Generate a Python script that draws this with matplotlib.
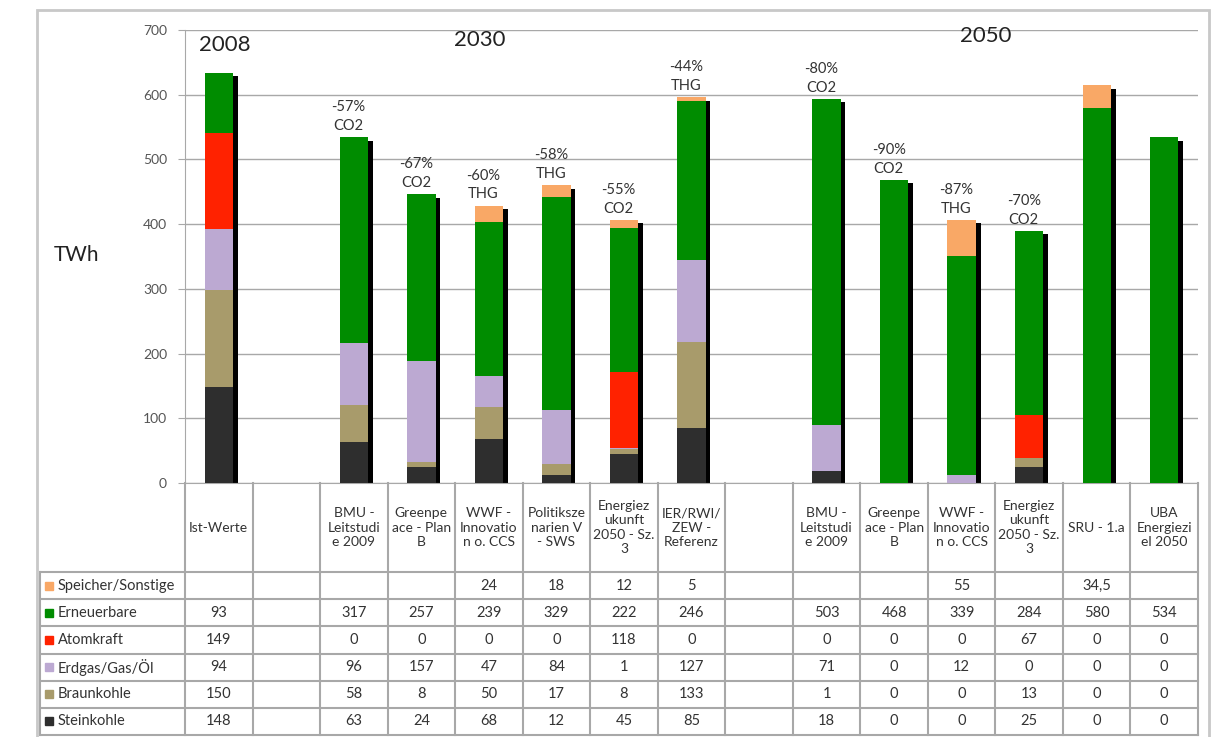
import matplotlib.pyplot as plt
import matplotlib.patches as mpatches
import numpy as np

plt.rcParams['font.family'] = ['Lato', 'DejaVu Sans']

# columns of the chart (two empty spacer columns)
columns = ['Ist-Werte', '',
           'BMU -\nLeitstudi\ne 2009', 'Greenpe\nace - Plan\nB', 'WWF -\nInnovatio\nn o. CCS',
           'Politiksze\nnarien V\n- SWS', 'Energiez\nukunft\n2050 - Sz.\n3', 'IER/RWI/\nZEW -\nReferenz',
           '',
           'BMU -\nLeitstudi\ne 2009', 'Greenpe\nace - Plan\nB', 'WWF -\nInnovatio\nn o. CCS',
           'Energiez\nukunft\n2050 - Sz.\n3', 'SRU - 1.a', 'UBA\nEnergiezi\nel 2050']

series_names = ['Speicher/Sonstige', 'Erneuerbare', 'Atomkraft', 'Erdgas/Gas/Öl', 'Braunkohle', 'Steinkohle']
series_colors = ['#F9A866', '#008C00', '#FF2200', '#BCA9D2', '#A89B6B', '#2E2E2E']

N = None
speicher = [N, N, N, N, 24, 18, 12, 5, N, N, N, 55, N, 34.5, N]
erneuerbare = [93, N, 317, 257, 239, 329, 222, 246, N, 503, 468, 339, 284, 580, 534]
atomkraft = [149, N, 0, 0, 0, 0, 118, 0, N, 0, 0, 0, 67, 0, 0]
erdgas = [94, N, 96, 157, 47, 84, 1, 127, N, 71, 0, 12, 0, 0, 0]
braunkohle = [150, N, 58, 8, 50, 17, 8, 133, N, 1, 0, 0, 13, 0, 0]
steinkohle = [148, N, 63, 24, 68, 12, 45, 85, N, 18, 0, 0, 25, 0, 0]

table_rows = [speicher, erneuerbare, atomkraft, erdgas, braunkohle, steinkohle]

notes = ['', '', '-57%\nCO2', '-67%\nCO2', '-60%\nTHG', '-58%\nTHG', '-55%\nCO2', '-44%\nTHG',
         '', '-80%\nCO2', '-90%\nCO2', '-87%\nTHG', '-70%\nCO2', '', '']

W, H = 1211, 737
fig = plt.figure(figsize=(W / 100, H / 100), dpi=100)

def fx(px):
    return px / W

def fy(py):
    return 1 - py / H

x0, x1 = 185, 1198
ytop, ybot, tbot = 30, 483, 735
ax = fig.add_axes([fx(x0), fy(ybot), fx(x1) - fx(x0), fy(ytop) - fy(ybot)])
tax = fig.add_axes([fx(x0), fy(tbot), fx(x1) - fx(x0), fy(ybot) - fy(tbot)])

# outer frame
fig.patches.append(mpatches.Rectangle((fx(37), fy(745)), fx(1209) - fx(37), fy(10) - fy(745),
                                      transform=fig.transFigure, fill=False, ec='#C8C8C8', lw=2))

n = len(columns)
x = np.arange(n)
bw = 0.42

def val(v):
    return 0 if v is None else v

stack_order = [steinkohle, braunkohle, erdgas, atomkraft, erneuerbare, speicher]
stack_colors = series_colors[::-1]
totals = np.array([sum(val(s[i]) for s in stack_order) for i in range(n)])

# shadow
mask = totals > 0
ax.bar(x[mask] + 0.07, totals[mask] - 5, width=bw, color='black', zorder=2)
bottom = np.zeros(n)
for s, c in zip(stack_order, stack_colors):
    v = np.array([val(t) for t in s], dtype=float)
    ax.bar(x, v, bottom=bottom, width=bw, color=c, zorder=3)
    bottom += v

for i, t in enumerate(notes):
    if t:
        ax.text(x[i] - 0.08, totals[i] + 7, t, ha='center', va='bottom', fontsize=10.5,
                color='#333333', linespacing=1.4, zorder=4)

ax.text(-0.3, 677, '2008', ha='left', va='center', fontsize=16, color='#222222')
ax.text(3.87, 685, '2030', ha='center', va='center', fontsize=16, color='#222222')
ax.text(11.35, 691, '2050', ha='center', va='center', fontsize=16, color='#222222')
fig.text(fx(76), fy(255), 'TWh', ha='center', va='center', fontsize=15, color='#222222')

ax.set_xlim(-0.5, n - 0.5)
ax.set_ylim(0, 700)
ax.set_yticks(range(0, 701, 100))
ax.yaxis.grid(True, color='#A8A8A8', lw=1)
ax.set_axisbelow(True)
ax.set_xticks([])
ax.tick_params(axis='y', length=5, color='#A8A8A8', labelsize=10, labelcolor='#555555', pad=8)
for side in ['top', 'right']:
    ax.spines[side].set_visible(False)
ax.spines['left'].set_color('#A8A8A8')
ax.spines['bottom'].set_color('#A8A8A8')

# table below the bars
tax.set_xlim(-0.5, n - 0.5)
tax.set_ylim(tbot - ybot, 0)
tax.axis('off')
hdr = 89
rh = (tbot - ybot - hdr) / 6
lab_left = -0.5 - (x0 - 40) / ((x1 - x0) / n)
lc = '#A8A8A8'
for k in range(n + 1):
    tax.plot([k - 0.5, k - 0.5], [0, tbot - ybot], color=lc, lw=1.5, clip_on=False)
tax.plot([lab_left, lab_left], [hdr, tbot - ybot], color=lc, lw=1.5, clip_on=False)
for r in range(7):
    yy = hdr + r * rh
    tax.plot([lab_left, n - 0.5], [yy, yy], color=lc, lw=1.5, clip_on=False)

for i, c in enumerate(columns):
    if c:
        tax.text(x[i], hdr / 2, c, ha='center', va='center', fontsize=10, color='#333333',
                 linespacing=1.25)

for r, (name, col, row) in enumerate(zip(series_names, series_colors, table_rows)):
    yc = hdr + (r + 0.5) * rh
    tax.add_patch(mpatches.Rectangle((lab_left + 0.08, yc - 4), 0.11, 8, color=col, clip_on=False))
    tax.text(lab_left + 0.26, yc, name, ha='left', va='center', fontsize=10.5, color='#333333',
             clip_on=False)
    for i, v in enumerate(row):
        if v is not None:
            s = str(v).replace('.', ',')
            tax.text(x[i], yc, s, ha='center', va='center', fontsize=10.5, color='#333333')

fig.savefig('out.png', dpi=100)
